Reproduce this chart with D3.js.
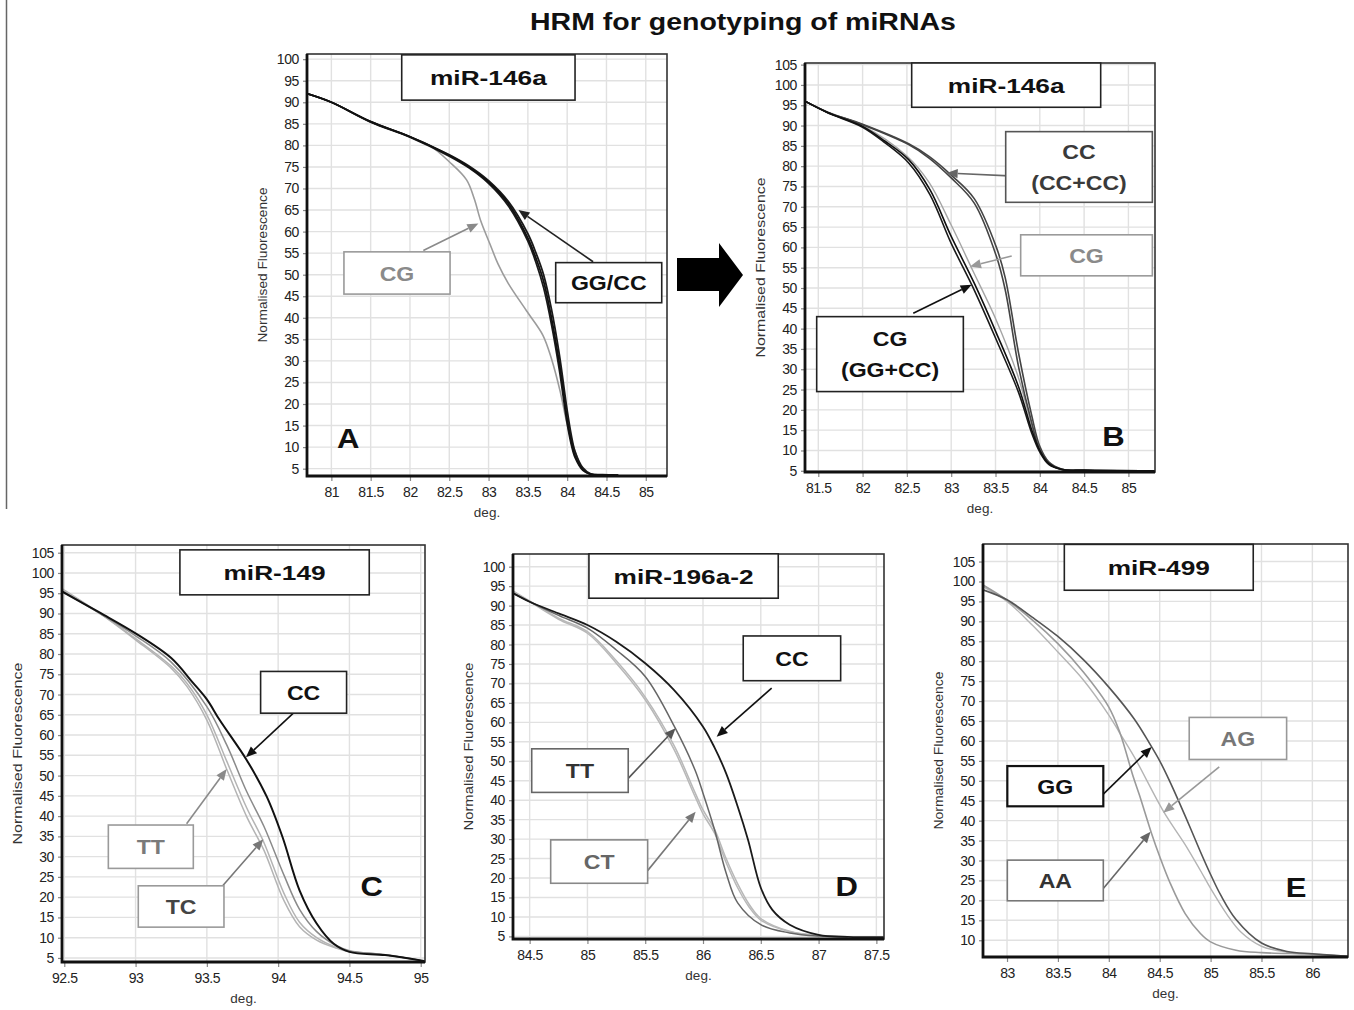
<!DOCTYPE html>
<html>
<head>
<meta charset="utf-8">
<script src="https://cdn.jsdelivr.net/npm/d3@7"></script>
<style>
  html, body { margin: 0; padding: 0; background: #fff; }
  svg { display: block; }
</style>
</head>
<body>
<svg id="fig" width="1354" height="1010"></svg>
<script>
// Melt-curve readings: [temperature (deg.), normalised fluorescence (%)]

// A: miR-146a, first screening run
const aTicksX = [81, 81.5, 82, 82.5, 83, 83.5, 84, 84.5, 85];
const aTicksY = [5, 10, 15, 20, 25, 30, 35, 40, 45, 50, 55, 60, 65, 70, 75, 80, 85, 90, 95, 100];
const aGGCC1 = [[80.69,92],[81,90],[81.5,85.5],[82,82],[82.5,77.7],[82.75,75],[83,71.5],[83.25,66.5],[83.5,58.5],[83.6,54],[83.7,48.5],[83.8,40],[83.9,29.5],[84,16.5],[84.05,11.5],[84.1,8],[84.2,4.8],[84.3,3.7],[84.45,3.5],[84.65,3.5]];
const aGGCC2 = [[80.69,92],[81,90],[81.5,85.5],[82,82],[82.5,77.8],[82.75,75.2],[83,71.8],[83.25,67],[83.5,59.5],[83.6,55.2],[83.7,50],[83.8,42],[83.9,31.5],[84,18.5],[84.05,13],[84.1,9],[84.2,5.2],[84.3,3.8],[84.45,3.6],[84.65,3.5]];
const aGGCC3 = [[80.69,92],[81,90],[81.5,85.4],[82,81.9],[82.5,77.5],[82.75,74.8],[83,71.2],[83.25,66],[83.5,57.8],[83.6,53],[83.7,47],[83.8,38.5],[83.9,28],[84,15.5],[84.05,10.8],[84.1,7.6],[84.2,4.6],[84.3,3.7],[84.45,3.5],[84.6,3.5]];
const aCG = [[80.69,92],[81,90],[81.5,85.5],[82,82],[82.25,80],[82.5,76.2],[82.72,72],[82.82,67.5],[82.9,62.5],[83.02,57],[83.12,52.5],[83.25,48],[83.48,41.7],[83.69,36],[83.8,30.5],[83.91,23],[84.01,14.5],[84.12,8],[84.2,4.8],[84.3,3.7],[84.45,3.5]];

// B: miR-146a, mixed-sample run
const bTicksX = [81.5, 82, 82.5, 83, 83.5, 84, 84.5, 85];
const bTicksY = [5, 10, 15, 20, 25, 30, 35, 40, 45, 50, 55, 60, 65, 70, 75, 80, 85, 90, 95, 100, 105];
const bCC1 = [[81.35,96],[81.6,93.3],[82,90.2],[82.52,85.3],[82.75,82],[83,77.1],[83.26,70.9],[83.51,57.8],[83.61,49.5],[83.76,30.6],[83.91,16.7],[84,10],[84.1,6.8],[84.25,5.3],[84.5,5.1],[85.3,5]];
const bCC2 = [[81.35,96],[81.6,93.3],[82,90.3],[82.52,85.5],[82.75,82.4],[83,77.8],[83.26,72],[83.51,60],[83.61,52.5],[83.76,34],[83.91,18.5],[84,11],[84.1,7.2],[84.25,5.4],[84.5,5.1],[85.3,5]];
const bMix1 = [[81.35,96],[81.6,93.3],[82,89.8],[82.25,86.2],[82.52,81.6],[82.76,74.2],[83,62.7],[83.26,51.2],[83.51,38.9],[83.76,25.7],[83.91,15],[84,10],[84.1,6.8],[84.25,5.3],[84.5,5.1],[85.3,5]];
const bMix2 = [[81.35,96],[81.6,93.2],[82,89.6],[82.25,85.8],[82.52,80.8],[82.76,73],[83,61],[83.26,49.5],[83.51,37.2],[83.76,24.3],[83.91,14.2],[84,9.6],[84.1,6.6],[84.25,5.3],[84.5,5.1],[85.3,5]];
const bCG = [[81.35,96],[81.6,93.4],[82,90],[82.5,82.5],[82.75,76],[83,65.5],[83.25,54],[83.5,42.5],[83.75,28.5],[83.9,17],[84,10.5],[84.12,6.8],[84.3,5.2],[84.5,5.1],[85.3,5]];

// C: miR-149
const cTicksX = [92.5, 93, 93.5, 94, 94.5, 95];
const cTicksY = [5, 10, 15, 20, 25, 30, 35, 40, 45, 50, 55, 60, 65, 70, 75, 80, 85, 90, 95, 100, 105];
const cCC = [[92.48,95.5],[92.75,90.2],[93,85.1],[93.25,79],[93.4,73],[93.5,68.8],[93.59,63.7],[93.78,53.8],[93.92,44.8],[94.03,34.9],[94.15,21.7],[94.27,13.5],[94.39,8.5],[94.5,6.5],[94.75,5.7],[95,4.4],[95.03,4.2]];
const cTC = [[92.48,95.6],[92.75,90],[93,84.5],[93.25,78],[93.5,67],[93.64,57.5],[93.78,46],[93.9,37.5],[94.04,25.5],[94.15,17],[94.27,11.5],[94.4,8.2],[94.5,6.8],[94.75,5.8],[95,4.4]];
const cTT1 = [[92.48,96.2],[92.75,90],[93,83.5],[93.25,76.5],[93.36,72],[93.5,63.7],[93.64,51.5],[93.78,39.8],[93.9,31.6],[94.04,19.2],[94.15,12.7],[94.27,9.4],[94.4,7.5],[94.5,6.5],[94.75,5.8],[95,4.4]];
const cTT2 = [[92.48,96],[92.75,90],[93,83.8],[93.25,77],[93.36,72.8],[93.5,65],[93.64,53.5],[93.78,42],[93.9,33.5],[94.04,21],[94.15,13.8],[94.27,10],[94.4,7.7],[94.5,6.6],[94.75,5.8],[95,4.4]];

// D: miR-196a-2
const dTicksX = [84.5, 85, 85.5, 86, 86.5, 87, 87.5];
const dTicksY = [5, 10, 15, 20, 25, 30, 35, 40, 45, 50, 55, 60, 65, 70, 75, 80, 85, 90, 95, 100];
const dCC = [[84.356,93.2],[84.5,91],[84.75,88],[85,85],[85.25,80.7],[85.5,75.2],[85.75,68.3],[86,58.9],[86.1,53.5],[86.2,46.9],[86.3,38.4],[86.39,29.8],[86.5,17.5],[86.6,11.8],[86.75,8],[87,5.4],[87.25,4.9],[87.566,4.8]];
const dTT = [[84.356,93.2],[84.5,91],[84.75,87.5],[85,84.2],[85.25,78.6],[85.5,71.8],[85.76,58.5],[85.93,47.8],[86,41.8],[86.1,32.4],[86.2,21.3],[86.3,13.6],[86.5,8],[86.75,5.9],[87,5.1],[87.25,4.9]];
const dCT1 = [[84.356,93.6],[84.5,91],[84.75,86.5],[85,82.9],[85.25,75.2],[85.5,65.8],[85.75,53],[85.93,41],[86,36.5],[86.1,31.5],[86.2,24],[86.3,17.5],[86.4,12.5],[86.5,9.2],[86.75,6.2],[87,5.2],[87.25,4.9]];
const dCT2 = [[84.356,93.8],[84.5,91.2],[84.75,86.8],[85,83.3],[85.25,75.8],[85.5,66.5],[85.75,54],[85.93,42],[86,37.5],[86.1,32.5],[86.2,25],[86.3,18.5],[86.4,13.2],[86.5,9.6],[86.75,6.3],[87,5.2],[87.25,4.9]];

// E: miR-499
const eTicksX = [83, 83.5, 84, 84.5, 85, 85.5, 86];
const eTicksY = [10, 15, 20, 25, 30, 35, 40, 45, 50, 55, 60, 65, 70, 75, 80, 85, 90, 95, 100, 105];
const eGG = [[82.764,97.9],[83,95.4],[83.25,91],[83.5,86.2],[83.75,80.4],[84,73.5],[84.25,65.5],[84.4,59.4],[84.5,55],[84.6,49.8],[84.75,41.2],[84.9,32.2],[85,26.5],[85.1,21.3],[85.25,15.2],[85.5,9.3],[85.75,7.2],[86,6.6],[86.35,6]];
const eAG = [[82.764,98.7],[83,95],[83.25,89],[83.5,82.3],[83.75,75.3],[84,66.5],[84.1,62.3],[84.25,56],[84.54,42.2],[84.75,34],[84.9,27.5],[85,23],[85.16,16.5],[85.3,12],[85.5,8.5],[85.75,7],[86,6.5],[86.35,6]];
const eAA = [[82.764,99.1],[83,95.3],[83.25,90.3],[83.5,84.4],[83.75,77.3],[84,68.5],[84.11,62],[84.24,51],[84.3,46.5],[84.42,36.8],[84.5,31],[84.6,24.5],[84.75,16.7],[84.9,11.7],[85,9.6],[85.25,7.5],[85.5,6.9],[86,6.5],[86.35,6]];

// ---------------------------------------------------------------------------
const FONT = '"Liberation Sans", Arial, Helvetica, sans-serif';
const svg = d3.select('#fig');
const defs = svg.append('defs');

// Panel layout: plot rectangle [left, top, right, bottom] in px and axis ranges.
// Annotation boxes are [xLeft, xRight, yTop, yBottom] in data units.
const panels = [
  {
    id: 'A', rect: [307, 54, 667, 476], xDom: [80.69, 85.27], yDom: [3.3, 101.2],
    ticksX: aTicksX, ticksY: aTicksY, yLabelLen: 155,
    series: [
      { data: aCG, color: '#9c9c9c', w: 1.6 },
      { data: aGGCC3, color: '#1a1a1a', w: 1.8 },
      { data: aGGCC2, color: '#1a1a1a', w: 1.8 },
      { data: aGGCC1, color: '#111', w: 1.8 }
    ],
    boxes: [
      { lines: ['miR-146a'], box: [81.895, 84.10, 101.0, 90.5], stroke: '#222', fill: '#111', kind: 'title' },
      { lines: ['CG'], box: [81.16, 82.51, 55.3, 45.5], stroke: '#9a9a9a', fill: '#8a8a8a' },
      { lines: ['GG/CC'], box: [83.854, 85.203, 52.8, 43.5], stroke: '#222', fill: '#111' }
    ],
    arrows: [
      { from: [82.17, 55.6], to: [82.87, 61.9], color: '#8a8a8a' },
      { from: [84.33, 53.0], to: [83.38, 65.0], color: '#222' }
    ],
    letter: { text: 'A', at: [81.215, 12.1] }
  },
  {
    id: 'B', rect: [805, 63, 1155, 472], xDom: [81.35, 85.30], yDom: [4.7, 105.4],
    ticksX: bTicksX, ticksY: bTicksY, yLabelLen: 180,
    series: [
      { data: bCG, color: '#a5a5a5', w: 1.4 },
      { data: bCC1, color: '#444', w: 1.6 },
      { data: bCC2, color: '#444', w: 1.6 },
      { data: bMix2, color: '#1a1a1a', w: 1.6 },
      { data: bMix1, color: '#111', w: 1.6 }
    ],
    boxes: [
      { lines: ['miR-146a'], box: [82.554, 84.687, 105.4, 94.5], stroke: '#222', fill: '#111', kind: 'title' },
      { lines: ['CC', '(CC+CC)'], box: [83.615, 85.27, 88.5, 71.1], stroke: '#555', fill: '#3a3a3a' },
      { lines: ['CG'], box: [83.784, 85.27, 63.1, 53.0], stroke: '#9a9a9a', fill: '#8a8a8a' },
      { lines: ['CG', '(GG+CC)'], box: [81.482, 83.137, 42.95, 24.5], stroke: '#222', fill: '#111' }
    ],
    arrows: [
      { from: [83.656, 77.6], to: [82.949, 78.3], color: '#666' },
      { from: [83.683, 57.9], to: [83.212, 55.3], color: '#999' },
      { from: [82.572, 43.8], to: [83.231, 50.8], color: '#111' }
    ],
    letter: { text: 'B', at: [84.83, 13.4] }
  },
  {
    id: 'C', rect: [62, 545, 425, 962], xDom: [92.484, 95.03], yDom: [4.0, 106.9],
    ticksX: cTicksX, ticksY: cTicksY, yLabelLen: 182,
    series: [
      { data: cTT1, color: '#b4b4b4', w: 1.5 },
      { data: cTT2, color: '#b4b4b4', w: 1.5 },
      { data: cTC, color: '#8a8a8a', w: 1.5 },
      { data: cCC, color: '#111', w: 2 }
    ],
    boxes: [
      { lines: ['miR-149'], box: [93.311, 94.639, 105.7, 94.6], stroke: '#222', fill: '#111', kind: 'title' },
      { lines: ['CC'], box: [93.877, 94.48, 75.7, 65.4], stroke: '#222', fill: '#111' },
      { lines: ['TT'], box: [92.809, 93.405, 37.8, 27.1], stroke: '#9a9a9a', fill: '#7a7a7a' },
      { lines: ['TC'], box: [93.019, 93.62, 22.8, 12.6], stroke: '#9a9a9a', fill: '#444' }
    ],
    arrows: [
      { from: [94.118, 65.8], to: [93.774, 54.5], color: '#111' },
      { from: [93.358, 38.1], to: [93.639, 51.6], color: '#8a8a8a' },
      { from: [93.611, 22.8], to: [93.896, 34.3], color: '#777' }
    ],
    letter: { text: 'C', at: [94.656, 22.6] }
  },
  {
    id: 'D', rect: [513, 554, 884, 939], xDom: [84.356, 87.566], yDom: [4.33, 103.26],
    ticksX: dTicksX, ticksY: dTicksY, yLabelLen: 168,
    series: [
      { data: dCT1, color: '#b8b8b8', w: 1.5 },
      { data: dCT2, color: '#b8b8b8', w: 1.5 },
      { data: dTT, color: '#666', w: 1.5 },
      { data: dCC, color: '#1a1a1a', w: 1.8 }
    ],
    boxes: [
      { lines: ['miR-196a-2'], box: [85.013, 86.651, 103.3, 91.9], stroke: '#222', fill: '#111', kind: 'title' },
      { lines: ['CC'], box: [86.348, 87.191, 82.2, 70.7], stroke: '#222', fill: '#111' },
      { lines: ['TT'], box: [84.518, 85.353, 53.2, 42.0], stroke: '#666', fill: '#333' },
      { lines: ['CT'], box: [84.682, 85.521, 29.8, 18.65], stroke: '#888', fill: '#666' }
    ],
    arrows: [
      { from: [86.594, 68.8], to: [86.118, 56.3], color: '#111' },
      { from: [85.353, 45.6], to: [85.763, 58.5], color: '#555' },
      { from: [85.521, 21.9], to: [85.936, 37.05], color: '#777' }
    ],
    letter: { text: 'D', at: [87.243, 17.8] }
  },
  {
    id: 'E', rect: [983, 544, 1348, 957], xDom: [82.764, 86.35], yDom: [5.8, 109.4],
    ticksX: eTicksX, ticksY: eTicksY, yLabelLen: 158,
    series: [
      { data: eAG, color: '#b4b4b4', w: 1.4 },
      { data: eAA, color: '#9a9a9a', w: 1.6 },
      { data: eGG, color: '#555', w: 1.6 }
    ],
    boxes: [
      { lines: ['miR-499'], box: [83.563, 85.419, 109.3, 97.8], stroke: '#222', fill: '#111', kind: 'title' },
      { lines: ['GG'], box: [83.003, 83.946, 53.7, 43.6], stroke: '#111', fill: '#111', sw: 2.2 },
      { lines: ['AG'], box: [84.79, 85.747, 65.9, 55.35], stroke: '#999', fill: '#777' },
      { lines: ['AA'], box: [83.003, 83.946, 30.1, 19.9], stroke: '#777', fill: '#333' }
    ],
    arrows: [
      { from: [83.946, 46.65], to: [84.421, 58.5], color: '#111' },
      { from: [85.085, 53.5], to: [84.535, 42.0], color: '#999' },
      { from: [83.946, 23.0], to: [84.41, 37.2], color: '#666' }
    ],
    letter: { text: 'E', at: [85.839, 23.4] }
  }
];

// Text helper: centred text with optional horizontal stretch.
function stretchedText(g, x, y, str, size, weight, fill, sx) {
  return g.append('text')
    .attr('transform', `translate(${x},${y}) scale(${sx},1)`)
    .attr('text-anchor', 'middle')
    .attr('dy', '0.36em')
    .style('font-family', FONT)
    .style('font-size', size + 'px')
    .style('font-weight', weight)
    .attr('fill', fill)
    .text(str);
}

function drawArrow(g, fx, fy, tx, ty, color) {
  const ang = Math.atan2(ty - fy, tx - fx);
  const L = 11, W = 4.6;
  const bx = tx - L * Math.cos(ang), by = ty - L * Math.sin(ang);
  const px = -Math.sin(ang) * W, py = Math.cos(ang) * W;
  g.append('line')
    .attr('x1', fx).attr('y1', fy).attr('x2', bx).attr('y2', by)
    .attr('stroke', color).attr('stroke-width', 1.6);
  g.append('path')
    .attr('d', `M${tx},${ty}L${bx + px},${by + py}L${bx - px},${by - py}Z`)
    .attr('fill', color);
}

function drawPanel(p) {
  const [x0, y0, x1, y1] = p.rect;
  const x = d3.scaleLinear().domain(p.xDom).range([x0, x1]);
  const y = d3.scaleLinear().domain(p.yDom).range([y1, y0]);
  const g = svg.append('g').attr('class', 'panel-' + p.id);

  // grid
  g.append('g').selectAll('line').data(p.ticksX).join('line')
    .attr('x1', d => x(d)).attr('x2', d => x(d)).attr('y1', y0).attr('y2', y1)
    .attr('stroke', '#e1e1e1').attr('stroke-width', 1.4);
  g.append('g').selectAll('line').data(p.ticksY).join('line')
    .attr('y1', d => y(d)).attr('y2', d => y(d)).attr('x1', x0).attr('x2', x1)
    .attr('stroke', '#e1e1e1').attr('stroke-width', 1.4);

  // axes
  const ax = g.append('g').attr('transform', `translate(0,${y1})`)
    .call(d3.axisBottom(x).tickValues(p.ticksX).tickSize(5).tickPadding(6).tickFormat(d => String(d)));
  const ay = g.append('g').attr('transform', `translate(${x0},0)`)
    .call(d3.axisLeft(y).tickValues(p.ticksY).tickSize(4).tickPadding(4).tickFormat(d => String(d)));
  [ax, ay].forEach(a => {
    a.select('.domain').remove();
    a.selectAll('.tick line').attr('stroke', '#888').attr('stroke-width', 1.2);
    a.selectAll('.tick text')
      .style('font-family', FONT).style('font-size', '14px')
      .style('letter-spacing', '-0.4px').attr('fill', '#222');
  });

  // axis titles
  g.append('text')
    .attr('transform', `translate(${x0 - 44},${(y0 + y1) / 2}) rotate(-90)`)
    .attr('text-anchor', 'middle').attr('dy', '0.35em')
    .attr('textLength', p.yLabelLen).attr('lengthAdjust', 'spacingAndGlyphs')
    .style('font-family', FONT).style('font-size', '12.5px').attr('fill', '#333')
    .text('Normalised Fluorescence');
  g.append('text')
    .attr('x', (x0 + x1) / 2).attr('y', y1 + 36).attr('text-anchor', 'middle').attr('dy', '0.35em')
    .style('font-family', FONT).style('font-size', '13.5px').attr('fill', '#333')
    .text('deg.');

  // melt curves
  defs.append('clipPath').attr('id', 'clip-' + p.id)
    .append('rect').attr('x', x0).attr('y', y0).attr('width', x1 - x0).attr('height', y1 - y0);
  const line = d3.line().x(d => x(d[0])).y(d => y(d[1])).curve(d3.curveCatmullRom.alpha(0.5));
  g.append('g').attr('clip-path', `url(#clip-${p.id})`)
    .selectAll('path').data(p.series).join('path')
    .attr('d', s => line(s.data))
    .attr('fill', 'none')
    .attr('stroke', s => s.color)
    .attr('stroke-width', s => s.w)
    .attr('stroke-linejoin', 'round');

  // frame
  g.append('rect').attr('x', x0).attr('y', y0).attr('width', x1 - x0).attr('height', y1 - y0)
    .attr('fill', 'none').attr('stroke', '#333').attr('stroke-width', 1.6);
  g.append('path').attr('d', `M${x0},${y0}V${y1}H${x1}`)
    .attr('fill', 'none').attr('stroke', '#111').attr('stroke-width', 2.8);

  // arrows
  p.arrows.forEach(a => drawArrow(g, x(a.from[0]), y(a.from[1]), x(a.to[0]), y(a.to[1]), a.color));

  // labelled boxes
  p.boxes.forEach(b => {
    const bx0 = x(b.box[0]), bx1 = x(b.box[1]), by0 = y(b.box[2]), by1 = y(b.box[3]);
    g.append('rect').attr('x', bx0).attr('y', by0).attr('width', bx1 - bx0).attr('height', by1 - by0)
      .attr('fill', '#fff').attr('stroke', b.stroke).attr('stroke-width', b.sw || 1.6);
    const cx = (bx0 + bx1) / 2, cy = (by0 + by1) / 2;
    const gap = 31;
    b.lines.forEach((t, i) => {
      const ty = cy + (i - (b.lines.length - 1) / 2) * gap;
      if (b.kind === 'title') stretchedText(g, cx, ty, t, 21, 'bold', b.fill, 1.25);
      else stretchedText(g, cx, ty, t, 21, 'bold', b.fill, 1.1);
    });
  });

  // panel letter
  stretchedText(g, x(p.letter.at[0]), y(p.letter.at[1]), p.letter.text, 27, 'bold', '#111', 1.15);
}

// figure heading
svg.append('text')
  .attr('transform', 'translate(743,30) scale(1.24,1)')
  .attr('text-anchor', 'middle')
  .style('font-family', FONT).style('font-size', '23px').style('font-weight', 'bold')
  .attr('fill', '#111')
  .text('HRM for genotyping of miRNAs');

// thin rule at the left edge of the upper row
svg.append('line').attr('x1', 6.5).attr('x2', 6.5).attr('y1', 0).attr('y2', 509)
  .attr('stroke', '#666').attr('stroke-width', 1.5);

panels.forEach(drawPanel);

// block arrow between the two miR-146a runs
svg.append('path')
  .attr('d', 'M677,258H719V243L743,275L719,307V291H677Z')
  .attr('fill', '#000');
</script>
</body>
</html>
